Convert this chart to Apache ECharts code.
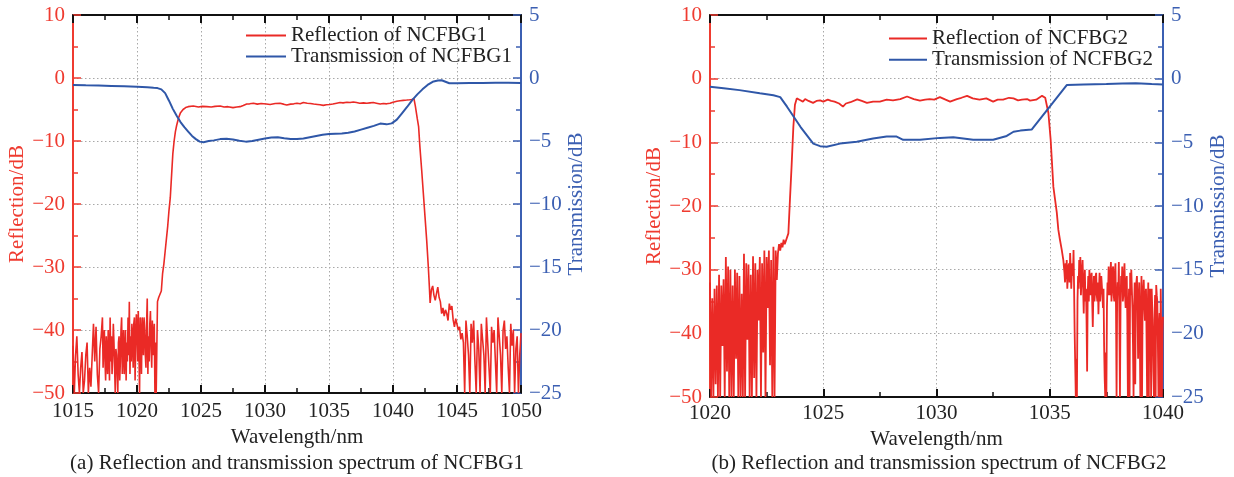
<!DOCTYPE html>
<html><head><meta charset="utf-8">
<script src="https://cdn.jsdelivr.net/npm/echarts@6/dist/echarts.min.js"></script>
<style>html,body{margin:0;padding:0;background:#fff}#c{width:1234px;height:477px}</style>
</head><body><div id="c"></div>
<script>
// ---------- axis ticks ----------
const xTicks1 = [1015, 1020, 1025, 1030, 1035, 1040, 1045, 1050];
const xTicks2 = [1020, 1025, 1030, 1035, 1040];
const reflTicks = [-50, -40, -30, -20, -10, 0, 10];
const transTicks = [-25, -20, -15, -10, -5, 0, 5];

// ---------- series names ----------
const names1 = ['Reflection of NCFBG1', 'Transmission of NCFBG1'];
const names2 = ['Reflection of NCFBG2', 'Transmission of NCFBG2'];
const captions = ['(a) Reflection and transmission spectrum of NCFBG1', '(b) Reflection and transmission spectrum of NCFBG2'];

// ---------- NCFBG1 reflection (wavelength nm, dB) ----------
const r1NoiseLeft = [[1015.0,-42.5],[1015.1,-50],[1015.2,-44],[1015.3,-41],[1015.4,-47],[1015.5,-50],[1015.6,-46],[1015.7,-43.5],[1015.8,-50],[1015.9,-48],
[1016.0,-44],[1016.1,-42],[1016.2,-50],[1016.3,-46],[1016.4,-49],[1016.5,-44],[1016.6,-39],[1016.7,-45],[1016.8,-39.5],[1016.9,-47],
[1017.0,-50],[1017.1,-43],[1017.2,-41],[1017.3,-38],[1017.4,-42],[1017.5,-45],[1017.6,-41],[1017.7,-47],[1017.8,-43],[1017.9,-38],
[1018.0,-41],[1018.1,-44],[1018.2,-42],[1018.3,-50],[1018.4,-44],[1018.5,-50],[1018.6,-41],[1018.7,-45],[1018.8,-38],[1018.9,-43],
[1019.0,-47],[1019.1,-40],[1019.2,-42],[1019.3,-38],[1019.4,-35.5],[1019.5,-41],[1019.6,-39],[1019.7,-46],[1019.8,-38],[1019.9,-42],
[1020.0,-40],[1020.1,-37],[1020.2,-50],[1020.3,-41],[1020.4,-38],[1020.5,-44],[1020.6,-40],[1020.7,-46],[1020.8,-35],[1020.9,-41],
[1021.0,-39],[1021.1,-43],[1021.2,-38.5],[1021.3,-41],[1021.4,-50],[1021.5,-50]];
const r1NoiseLeftFine = [[1017.35,-46],[1017.45,-40],[1017.55,-48],[1017.65,-44],[1017.75,-40],[1017.85,-48],[1017.95,-45],[1018.05,-47],[1018.15,-39],[1018.25,-46],
[1018.35,-43],[1018.45,-47],[1018.55,-42],[1018.65,-48],[1018.75,-40],[1018.85,-47],[1018.95,-40],[1019.05,-44],[1019.15,-48],[1019.25,-45],
[1019.35,-44],[1019.45,-47],[1019.55,-45],[1019.65,-41],[1019.75,-39],[1019.85,-48],[1019.95,-37.5],[1020.05,-45],[1020.15,-43],[1020.25,-38],
[1020.35,-47],[1020.45,-40],[1020.55,-38],[1020.65,-44],[1020.75,-39],[1020.85,-47],[1020.95,-45],[1021.05,-37],[1021.15,-46],[1021.25,-44],[1021.35,-39],[1021.45,-42]];
const r1Band = [[1021.6,-35.5],[1021.7,-34.8],[1021.8,-34.5],[1021.9,-33.8],[1022.0,-31],[1022.1,-29.5],[1022.2,-27.5],[1022.3,-25.5],[1022.4,-23.5],[1022.5,-21],[1022.6,-19],[1022.7,-15.5],[1022.8,-12],[1022.9,-10],[1023.0,-8.5],[1023.1,-7.5],[1023.25,-6.3],[1023.4,-5.5],[1023.6,-5],[1023.8,-4.7],[1024.0,-4.55],[1024.4,-4.45],[1024.8,-4.6],[1025.1,-4.5],[1025.45,-4.55],[1025.8,-4.6],[1026.1,-4.5],[1026.5,-4.45],[1026.8,-4.6],[1027.1,-4.55],[1027.5,-4.7],[1027.8,-4.6],[1028.05,-4.55],[1028.3,-4.35],[1028.57,-4.13],[1028.8,-4.1],[1029.1,-4.02],[1029.4,-4.15],[1029.7,-4.05],[1030.1,-4.13],[1030.4,-4.2],[1030.8,-4.05],[1031.17,-4.02],[1031.45,-4.15],[1031.7,-4.3],[1032.0,-4.15],[1032.25,-4.1],[1032.5,-4.02],[1032.75,-4.1],[1033.0,-3.9],[1033.3,-4.0],[1033.55,-4.05],[1033.8,-4.13],[1034.1,-4.2],[1034.3,-4.25],[1034.55,-4.35],[1034.8,-4.25],[1035.05,-4.2],[1035.3,-4.13],[1035.6,-4.0],[1035.86,-3.9],[1036.1,-3.95],[1036.4,-3.85],[1036.65,-3.9],[1036.9,-3.8],[1037.15,-3.9],[1037.4,-4.02],[1037.7,-3.95],[1037.95,-4.0],[1038.2,-3.95],[1038.46,-3.9],[1038.7,-4.0],[1039.0,-4.13],[1039.25,-4.05],[1039.5,-4.1],[1039.77,-4.02],[1040.0,-3.85],[1040.3,-3.7],[1040.55,-3.6],[1040.8,-3.55],[1041.07,-3.5],[1041.3,-3.45],[1041.46,-3.4],[1041.64,-3.3],[1041.75,-4.5],[1041.9,-6.5],[1042.0,-7.7],[1042.1,-10.9],[1042.24,-14.6],[1042.37,-18.3],[1042.5,-22],[1042.63,-25.7],[1042.76,-30],[1042.84,-33.1],[1042.9,-35.7]];
const r1NoiseRight = [[1043.0,-33.6],[1043.1,-33],[1043.2,-34.5],[1043.3,-35.3],[1043.4,-34.2],[1043.5,-33.2],[1043.6,-34.8],[1043.7,-35.5],[1043.8,-37.4],[1043.9,-36.5],
[1044.0,-37.8],[1044.1,-36.8],[1044.2,-37.4],[1044.3,-38.5],[1044.4,-35.8],[1044.5,-36.8],[1044.6,-36.2],[1044.7,-38.4],[1044.8,-39.5],[1044.9,-38.2],
[1045.0,-37.9],[1045.1,-40],[1045.2,-39.5],[1045.3,-41.5],[1045.4,-40.5],[1045.5,-42],[1045.6,-50],[1045.7,-38.5],[1045.8,-41],[1045.9,-44],
[1046.0,-50],[1046.1,-39],[1046.2,-42],[1046.3,-38.5],[1046.4,-45],[1046.5,-50],[1046.6,-40],[1046.7,-43],[1046.8,-50],[1046.9,-39],
[1047.0,-41.5],[1047.1,-44],[1047.2,-50],[1047.3,-38],[1047.4,-42],[1047.5,-46],[1047.6,-50],[1047.7,-39.5],[1047.8,-42],[1047.9,-40],
[1048.0,-45],[1048.1,-50],[1048.2,-38],[1048.3,-41],[1048.4,-44],[1048.5,-50],[1048.6,-40],[1048.7,-38.5],[1048.8,-43],[1048.9,-41],
[1049.0,-46],[1049.1,-50],[1049.2,-39],[1049.3,-42.5],[1049.4,-40],[1049.5,-50],[1049.6,-43],[1049.7,-41],[1049.8,-50],[1049.9,-44],[1050.0,-40.5]];

// ---------- NCFBG1 transmission ----------
const t1 = [[1015.0,-0.55],[1016.0,-0.58],[1017.0,-0.6],[1018.0,-0.63],[1019.0,-0.66],[1020.0,-0.7],[1020.8,-0.74],[1021.3,-0.78],[1021.6,-0.8],[1021.9,-0.9],[1022.2,-1.2],[1022.5,-1.8],[1022.8,-2.45],[1023.1,-3.0],[1023.4,-3.5],[1023.7,-3.9],[1024.0,-4.25],[1024.3,-4.6],[1024.6,-4.85],[1024.9,-5.05],[1025.2,-5.1],[1025.6,-5.0],[1026.0,-4.95],[1026.5,-4.85],[1027.0,-4.83],[1027.5,-4.88],[1028.0,-4.98],[1028.5,-5.05],[1029.0,-5.0],[1029.5,-4.9],[1030.0,-4.8],[1030.5,-4.72],[1031.0,-4.7],[1031.5,-4.78],[1032.0,-4.85],[1032.5,-4.85],[1033.0,-4.8],[1033.5,-4.7],[1034.0,-4.6],[1034.5,-4.5],[1035.0,-4.45],[1035.5,-4.42],[1036.0,-4.4],[1036.5,-4.35],[1037.0,-4.25],[1037.5,-4.1],[1038.0,-3.95],[1038.5,-3.8],[1039.0,-3.62],[1039.5,-3.68],[1039.9,-3.6],[1040.3,-3.3],[1040.7,-2.8],[1041.1,-2.3],[1041.5,-1.75],[1041.9,-1.3],[1042.3,-0.9],[1042.7,-0.55],[1043.1,-0.3],[1043.5,-0.2],[1043.8,-0.18],[1044.1,-0.3],[1044.4,-0.42],[1045.0,-0.42],[1046.0,-0.4],[1047.0,-0.4],[1048.0,-0.38],[1049.0,-0.38],[1050.0,-0.4]];

// ---------- NCFBG2 reflection ----------
const r2NoiseLeft = [[1020.00,-32],[1020.05,-50],[1020.10,-34.5],[1020.15,-50],[1020.20,-33],[1020.25,-48],[1020.30,-32.5],[1020.35,-50],[1020.40,-30.8],[1020.45,-50],
[1020.50,-32.5],[1020.55,-42],[1020.60,-31.5],[1020.65,-50],[1020.70,-28],[1020.75,-46],[1020.80,-29.5],[1020.85,-50],[1020.90,-30],[1020.95,-50],
[1021.00,-32.5],[1021.05,-50],[1021.10,-30],[1021.15,-44],[1021.20,-30.5],[1021.25,-50],[1021.30,-31],[1021.35,-50],[1021.40,-33.8],[1021.45,-50],
[1021.50,-27.5],[1021.55,-50],[1021.60,-29],[1021.65,-41],[1021.70,-29.2],[1021.75,-50],[1021.80,-30.8],[1021.85,-50],[1021.90,-27.9],[1021.95,-47],
[1022.00,-29],[1022.05,-50],[1022.10,-30],[1022.15,-38],[1022.20,-28],[1022.25,-50],[1022.30,-29],[1022.35,-43],[1022.40,-27],[1022.45,-50],
[1022.50,-28],[1022.55,-36],[1022.60,-27],[1022.65,-45],[1022.70,-28.5],[1022.75,-50],[1022.80,-26.4],[1022.85,-50],[1022.90,-27],[1022.95,-31.6],
[1023.00,-27.4],[1023.05,-26],[1023.10,-27],[1023.15,-25.8],[1023.20,-26.5],[1023.25,-25.3],[1023.30,-26]];
const r2Band = [[1023.46,-24.3],[1023.53,-19],[1023.6,-13.9],[1023.68,-7.6],[1023.75,-4.1],[1023.83,-3.1],[1023.97,-3.35],[1024.1,-3.6],[1024.2,-3.2],[1024.35,-3.5],[1024.55,-3.8],[1024.7,-3.5],[1024.86,-3.4],[1025.0,-3.6],[1025.2,-3.3],[1025.35,-3.5],[1025.5,-3.6],[1025.7,-3.9],[1025.87,-4.4],[1026.0,-3.9],[1026.2,-3.7],[1026.5,-3.25],[1026.7,-3.5],[1026.93,-3.8],[1027.2,-3.6],[1027.5,-3.6],[1027.8,-3.3],[1028.08,-3.4],[1028.4,-3.2],[1028.7,-2.8],[1029.0,-3.2],[1029.27,-3.45],[1029.5,-3.3],[1029.7,-3.2],[1029.9,-3.3],[1030.15,-2.9],[1030.4,-3.3],[1030.6,-3.6],[1030.9,-3.2],[1031.1,-3.0],[1031.35,-2.7],[1031.6,-3.1],[1031.9,-3.3],[1032.2,-3.1],[1032.5,-3.6],[1032.7,-3.3],[1032.94,-3.3],[1033.2,-3.0],[1033.4,-3.1],[1033.6,-3.4],[1033.77,-3.3],[1034.0,-3.2],[1034.13,-3.45],[1034.4,-3.3],[1034.66,-2.7],[1034.8,-3.0],[1034.94,-5.4],[1035.04,-9.6],[1035.16,-17],[1035.31,-21],[1035.38,-23.75],[1035.45,-25.3],[1035.53,-26.9],[1035.6,-28.5]];
const r2NoiseRight = [[1035.65,-30.5],[1035.70,-29],[1035.75,-28.5],[1035.80,-31],[1035.85,-29],[1035.90,-27.4],[1035.95,-33],
[1036.00,-29],[1036.05,-26.9],[1036.10,-40],[1036.15,-50],[1036.20,-50],[1036.25,-31],[1036.30,-28.5],[1036.35,-28],[1036.40,-32],[1036.45,-28.5],
[1036.50,-36.9],[1036.55,-30],[1036.60,-33],[1036.65,-46],[1036.70,-31],[1036.75,-30],[1036.80,-34],[1036.85,-30.5],[1036.90,-39],[1036.95,-31],
[1037.00,-33.5],[1037.05,-30.5],[1037.10,-35],[1037.15,-37],[1037.20,-30.5],[1037.25,-33],[1037.30,-31],[1037.35,-36],[1037.40,-42],[1037.45,-50],
[1037.50,-50],[1037.55,-32],[1037.60,-29.5],[1037.65,-34],[1037.70,-28.8],[1037.75,-33],[1037.80,-29.5],[1037.85,-35],[1037.90,-29],[1037.95,-50],
[1038.00,-32],[1038.05,-28.8],[1038.10,-50],[1038.15,-31],[1038.20,-29.5],[1038.25,-34],[1038.30,-29],[1038.35,-36],[1038.40,-31],[1038.45,-50],
[1038.50,-33],[1038.55,-30.5],[1038.60,-30],[1038.65,-36],[1038.70,-50],[1038.75,-32],[1038.80,-34],[1038.85,-31],[1038.90,-44],[1038.95,-32],
[1039.00,-50],[1039.05,-31],[1039.10,-35],[1039.15,-31.6],[1039.20,-38],[1039.25,-33],[1039.30,-50],[1039.35,-32],[1039.40,-34],[1039.45,-37],
[1039.50,-33],[1039.55,-40],[1039.60,-50],[1039.65,-34],[1039.70,-32.4],[1039.75,-35],[1039.80,-50],[1039.85,-36.8],[1039.90,-33],[1039.95,-50],[1040.00,-37.4]];
const r2NoiseRightFine = [[1035.675,-32],[1035.725,-31.5],[1035.775,-33],[1035.825,-29.5],[1035.875,-32],[1035.925,-30],[1035.975,-30.5],
[1036.025,-31],[1036.075,-33],[1036.125,-45],[1036.175,-44],[1036.225,-35],[1036.275,-33],[1036.325,-32],[1036.375,-34],[1036.425,-30],[1036.475,-33],
[1036.525,-32],[1036.575,-35],[1036.625,-38],[1036.675,-34],[1036.725,-35],[1036.775,-33],[1036.825,-31],[1036.875,-35],[1036.925,-34],[1036.975,-35],
[1037.025,-31],[1037.075,-34],[1037.125,-32],[1037.175,-33],[1037.225,-35],[1037.275,-31],[1037.325,-34],[1037.375,-33],[1037.425,-47],[1037.475,-43],
[1037.525,-36],[1037.575,-34],[1037.625,-33],[1037.675,-31],[1037.725,-35],[1037.775,-30],[1037.825,-34],[1037.875,-31],[1037.925,-36],[1037.975,-35],
[1038.025,-34],[1038.075,-38],[1038.125,-36],[1038.175,-33],[1038.225,-35],[1038.275,-31],[1038.325,-34],[1038.375,-32],[1038.425,-38],[1038.475,-37],
[1038.525,-50],[1038.575,-34],[1038.625,-33],[1038.675,-42],[1038.725,-36],[1038.775,-48],[1038.825,-32],[1038.875,-36],[1038.925,-35],[1038.975,-40],
[1039.025,-37],[1039.075,-50],[1039.125,-33],[1039.175,-36],[1039.225,-34],[1039.275,-41],[1039.325,-36],[1039.375,-50],[1039.425,-33],[1039.475,-50],
[1039.525,-36],[1039.575,-46],[1039.625,-38],[1039.675,-50],[1039.725,-34],[1039.775,-42],[1039.825,-39],[1039.875,-50],[1039.925,-41],[1039.975,-40]];

// ---------- NCFBG2 transmission ----------
const t2 = [[1020.0,-0.63],[1020.6,-0.75],[1021.3,-0.9],[1022.2,-1.15],[1022.8,-1.3],[1023.1,-1.45],[1023.4,-2.2],[1024.0,-3.8],[1024.56,-5.1],[1024.86,-5.3],[1025.15,-5.35],[1025.74,-5.1],[1026.48,-4.95],[1027.2,-4.7],[1027.8,-4.55],[1028.24,-4.55],[1028.53,-4.8],[1029.27,-4.8],[1030.15,-4.65],[1030.74,-4.6],[1031.62,-4.8],[1032.5,-4.8],[1033.1,-4.5],[1033.4,-4.17],[1033.7,-4.08],[1034.2,-4.0],[1035.75,-0.5],[1036.5,-0.45],[1037.5,-0.42],[1038.2,-0.38],[1038.8,-0.36],[1039.5,-0.42],[1040.0,-0.45]];

// ---------- styling ----------
const FONT = '"Liberation Serif", "Times New Roman", serif';
const FS = 21;
const RED_AX = '#ef3b30', RED_LN = '#ea2a26', BLUE_AX = '#3b5fb2', BLUE_LN = '#2f57a8', INK = '#222';
const minus = v => String(v).replace('-', '\u2212');
const byX = (a, b) => a[0] - b[0];
const gridLine = { show: true, lineStyle: { type: [1.5, 2.5], color: '#a8a8a8', width: 1 } };

function xAxis(gi, ticks, top, nameGap, labelMargin) {
  return {
    type: 'value', gridIndex: gi, position: top ? 'top' : 'bottom',
    min: ticks[0], max: ticks[ticks.length - 1], interval: ticks[1] - ticks[0],
    name: top ? '' : 'Wavelength/nm', nameLocation: 'middle', nameGap: nameGap,
    nameTextStyle: { fontFamily: FONT, fontSize: FS, color: INK },
    axisLine: { show: true, onZero: false, lineStyle: { color: '#111', width: 2 } },
    axisTick: { show: true, inside: true, length: 8, lineStyle: { color: '#111', width: 2 } },
    minorTick: { show: true, splitNumber: 2, length: 5, lineStyle: { color: '#111', width: 1.5 } },
    axisLabel: { show: !top, margin: labelMargin, fontFamily: FONT, fontSize: FS, color: INK, formatter: v => String(v) },
    splitLine: top ? { show: false } : gridLine
  };
}
function yAxis(gi, ticks, right, name, col, nameGap) {
  return {
    type: 'value', gridIndex: gi, position: right ? 'right' : 'left',
    min: ticks[0], max: ticks[ticks.length - 1], interval: ticks[1] - ticks[0],
    name: name, nameLocation: 'middle', nameGap: nameGap,
    nameTextStyle: { fontFamily: FONT, fontSize: FS, color: col },
    axisLine: { show: true, onZero: false, lineStyle: { color: col, width: 2 } },
    axisTick: { show: true, inside: true, length: 8, lineStyle: { color: col, width: 1.5 } },
    minorTick: { show: true, splitNumber: 2, length: 5, lineStyle: { color: col, width: 1.5 } },
    axisLabel: { margin: 8, fontFamily: FONT, fontSize: FS, color: col, formatter: minus },
    splitLine: right ? { show: false } : gridLine
  };
}
function line(name, xi, yi, data, color, w) {
  return { name, type: 'line', xAxisIndex: xi, yAxisIndex: yi, data, symbol: 'none',
    lineStyle: { color, width: w }, itemStyle: { color }, clip: true, animation: false };
}

const chart = echarts.init(document.getElementById('c'), null, { renderer: 'canvas' });
chart.setOption({
  backgroundColor: '#fff',
  animation: false,
  grid: [
    { left: 73, top: 15, width: 448, height: 378 },
    { left: 710, top: 15, width: 453, height: 382 }
  ],
  xAxis: [
    xAxis(0, xTicks1, false, 31, 8),
    xAxis(0, xTicks1, true, 0, 8),
    xAxis(1, xTicks2, false, 27, 6),
    xAxis(1, xTicks2, true, 0, 6)
  ],
  yAxis: [
    yAxis(0, reflTicks, false, 'Reflection/dB', RED_AX, 44),
    yAxis(0, transTicks, true, 'Transmission/dB', BLUE_AX, 44),
    yAxis(1, reflTicks, false, 'Reflection/dB', RED_AX, 45),
    yAxis(1, transTicks, true, 'Transmission/dB', BLUE_AX, 43)
  ],
  legend: [
    { data: names1, orient: 'vertical', left: 246, top: 25, padding: 0, itemWidth: 40, itemHeight: 2, itemGap: 0, icon: 'rect',
      textStyle: { fontFamily: FONT, fontSize: FS, color: INK, lineHeight: 19 } },
    { data: names2, orient: 'vertical', left: 889, top: 28, padding: 0, itemWidth: 38, itemHeight: 2, itemGap: 0.3, icon: 'rect',
      textStyle: { fontFamily: FONT, fontSize: FS, color: INK, lineHeight: 19 } }
  ],
  series: [
    line(names1[0], 0, 0, [].concat(r1NoiseLeft, r1NoiseLeftFine, r1Band, r1NoiseRight).sort(byX), RED_LN, 1.6),
    line(names1[1], 0, 1, t1, BLUE_LN, 2),
    line(names2[0], 2, 2, [].concat(r2NoiseLeft, r2Band, r2NoiseRight, r2NoiseRightFine).sort(byX), RED_LN, 1.8),
    line(names2[1], 2, 3, t2, BLUE_LN, 2)
  ],
  graphic: [
    { type: 'text', x: 297, y: 463, style: { text: captions[0], textAlign: 'center', textVerticalAlign: 'middle', fontFamily: FONT, fontSize: FS, fill: INK } },
    { type: 'text', x: 939, y: 463, style: { text: captions[1], textAlign: 'center', textVerticalAlign: 'middle', fontFamily: FONT, fontSize: FS, fill: INK } }
  ]
});
</script>
</body></html>
